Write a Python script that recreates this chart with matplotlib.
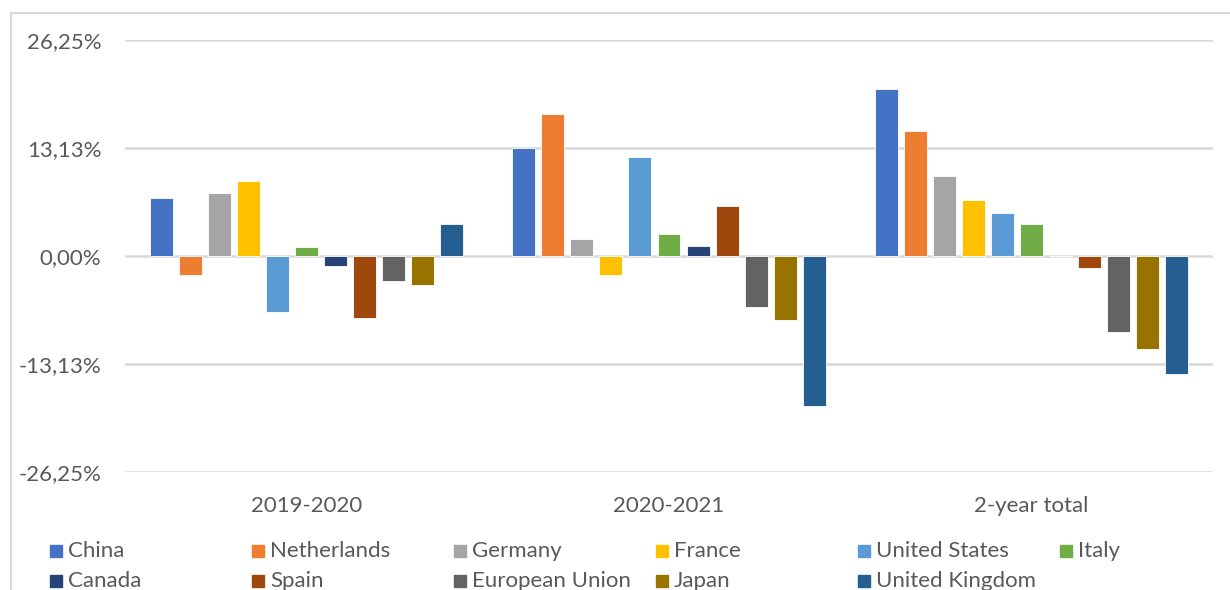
import matplotlib
matplotlib.use("Agg")
import matplotlib.pyplot as plt
import numpy as np
from matplotlib.patches import Rectangle
from matplotlib.lines import Line2D

plt.rcParams['font.family'] = ['Lato', 'DejaVu Sans']

categories = ["2019-2020", "2020-2021", "2-year total"]
series_names = ["China", "Netherlands", "Germany", "France", "United States", "Italy",
                "Canada", "Spain", "European Union", "Japan", "United Kingdom"]
china = [7.04, 13.16, 20.24]
netherlands = [-2.27, 17.25, 15.14]
germany = [7.65, 2.06, 9.68]
france = [9.15, -2.35, 6.84]
united_states = [-6.80, 11.98, 5.18]
italy = [1.05, 2.67, 3.89]
canada = [-1.20, 1.26, 0.0]
spain = [-7.50, 6.07, -1.46]
european_union = [-3.04, -6.19, -9.23]
japan = [-3.56, -7.73, -11.34]
united_kingdom = [3.89, -18.20, -14.29]
series_values = [china, netherlands, germany, france, united_states, italy,
                 canada, spain, european_union, japan, united_kingdom]
colors = ["#4472C4", "#ED7D31", "#A5A5A5", "#FFC000", "#5B9BD5", "#70AD47",
          "#264478", "#9E480E", "#636363", "#997300", "#255E91"]
yticks = [-26.25, -13.125, 0.0, 13.125, 26.25]
ytick_labels = ["-26,25%", "-13,13%", "0,00%", "13,13%", "26,25%"]

W, H = 1230, 590
FS = 16
fig = plt.figure(figsize=(W / 100, H / 100), dpi=100)
ax = fig.add_axes([125 / W, 1 - 472 / H, (1213 - 125) / W, (472 - 40) / H])

n = len(series_names)
step = 0.08
bw = 0.0634
x = np.arange(len(categories))
for i, (vals, c) in enumerate(zip(series_values, colors)):
    off = (i - (n - 1) / 2) * step
    ax.bar(x + off, vals, width=bw, color=c, edgecolor="white", linewidth=0.6, zorder=3)

ax.set_xlim(-0.5, len(categories) - 0.5)
ax.set_ylim(-26.25, 26.25)
ax.set_yticks(yticks)
ax.set_yticklabels(ytick_labels)
ax.set_xticks(x)
ax.set_xticklabels(categories)
ax.tick_params(axis='y', length=0, pad=17, labelsize=FS, labelcolor="#595959")
ax.tick_params(axis='x', length=0, pad=17, labelsize=FS, labelcolor="#595959")
ax.grid(axis='y', color="#D9D9D9", linewidth=1.8, zorder=0)
for s in ax.spines.values():
    s.set_visible(False)

# chart border
fig.add_artist(Line2D([11 / W, 11 / W], [0, 1 - 13 / H], transform=fig.transFigure,
                      color="#D9D9D9", linewidth=1.5))
fig.add_artist(Line2D([11 / W, 1], [1 - 13 / H, 1 - 13 / H], transform=fig.transFigure,
                      color="#D9D9D9", linewidth=1.5))

# legend
for i, (name, c) in enumerate(zip(series_names, colors)):
    col = i % 6
    row = i // 6
    lx = 50 + 202 * col
    ly = 551 + 30 * row
    fig.add_artist(Rectangle((lx / W, 1 - (ly + 6) / H), 12 / W, 12 / H,
                             transform=fig.transFigure, color=c))
    fig.text((lx + 18) / W, 1 - ly / H, name, fontsize=FS, color="#595959",
             va="center", ha="left")

fig.savefig("out.png", dpi=100)
